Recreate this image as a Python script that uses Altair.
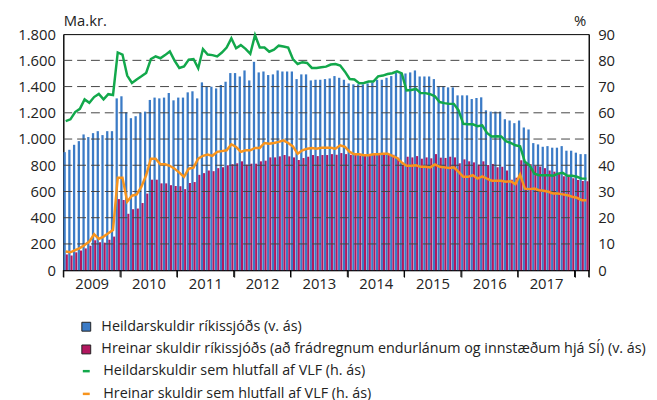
import altair as alt
import pandas as pd

# ---- data (monthly, Jan 2009 .. Mar 2018) ----
start_year = 2009
n_months = 111

total_debt = [900, 918, 956, 984, 1035, 1015, 1045, 1060, 1030, 1060, 1060, 1310,
              1326, 1204, 1159, 1174, 1199, 1209, 1298, 1316, 1310, 1316, 1351, 1295,
              1316, 1316, 1356, 1364, 1310, 1432, 1399, 1399, 1386, 1412, 1437, 1503,
              1503, 1477, 1523, 1447, 1589, 1508, 1515, 1488, 1493, 1523, 1515, 1515,
              1515, 1457, 1493, 1493, 1447, 1452, 1452, 1457, 1462, 1480, 1467, 1452,
              1424, 1417, 1417, 1417, 1424, 1432, 1452, 1452, 1467, 1480, 1505, 1498,
              1500, 1508, 1523, 1477, 1477, 1477, 1457, 1404, 1404, 1394, 1394, 1333,
              1333, 1333, 1305, 1313, 1318, 1219, 1209, 1209, 1209, 1151, 1141, 1121,
              1141, 1088, 1073, 969, 959, 941, 946, 934, 934, 946, 911, 911,
              896, 885, 885]

net_debt = [120, 112, 136, 150, 166, 186, 228, 213, 210, 232, 256, 542,
            535, 430, 465, 470, 512, 584, 690, 690, 662, 662, 648, 642,
            640, 618, 665, 672, 727, 740, 760, 755, 778, 785, 800, 808,
            815, 830, 805, 812, 812, 830, 835, 860, 860, 868, 878, 868,
            860, 840, 855, 865, 878, 870, 878, 878, 885, 880, 893, 885,
            880, 880, 873, 873, 873, 880, 880, 880, 880, 880, 858, 805,
            865, 860, 870, 850, 860, 853, 885, 858, 856, 865, 860, 815,
            845, 830, 822, 805, 830, 802, 810, 785, 788, 760, 690, 705,
            838, 816, 808, 796, 790, 778, 760, 751, 734, 716, 711, 701,
            688, 680, 678]

total_pct = [56.8, 57.5, 60.3, 61.5, 65.1, 63.8, 66.0, 67.2, 65.1, 67.1, 66.8, 83.0,
             82.2, 74.2, 71.4, 72.7, 73.9, 75.2, 80.5, 81.5, 80.8, 82.0, 83.4, 79.9,
             77.1, 77.7, 80.3, 80.5, 77.0, 84.3, 82.2, 82.0, 81.5, 83.0, 84.9, 88.4,
             84.6, 85.8, 84.4, 82.5, 89.6, 84.9, 84.9, 83.3, 84.1, 85.6, 85.3, 84.9,
             80.5, 78.6, 79.3, 79.0, 77.1, 77.1, 77.4, 77.6, 78.4, 78.6, 78.0, 75.7,
             72.9, 72.7, 71.3, 71.4, 71.9, 71.9, 73.9, 74.2, 74.8, 75.1, 75.8, 75.0,
             68.5, 68.7, 69.1, 67.5, 67.5, 67.1, 66.3, 64.1, 63.7, 63.4, 63.4, 60.9,
             55.8, 55.6, 55.6, 54.9, 55.2, 52.3, 51.0, 51.1, 51.0, 49.2, 48.5, 47.6,
             47.2, 41.3, 40.0, 36.8, 36.2, 36.2, 36.2, 36.0, 36.8, 37.1, 36.0, 36.0,
             35.6, 34.9, 34.9]

net_pct = [7.1, 6.8, 7.6, 8.4, 9.6, 10.9, 13.7, 11.9, 12.8, 14.1, 15.3, 35.2,
           35.2, 26.1, 28.4, 28.9, 31.8, 36.2, 42.5, 42.5, 40.4, 40.4, 39.8, 38.7,
           37.2, 35.6, 38.7, 39.1, 42.5, 43.6, 44.1, 43.6, 45.1, 45.4, 45.7, 48.0,
           47.0, 45.1, 45.7, 45.7, 46.6, 46.6, 48.5, 48.2, 48.5, 48.9, 49.5, 48.5,
           47.2, 44.4, 45.7, 46.3, 46.6, 46.3, 46.7, 46.7, 46.7, 46.3, 47.6, 47.0,
           45.1, 44.2, 44.2, 43.8, 43.8, 44.2, 44.2, 44.4, 44.4, 43.6, 42.8, 41.0,
           39.8, 39.8, 40.0, 39.4, 39.4, 39.2, 40.3, 39.4, 39.2, 39.0, 39.2, 37.5,
           35.6, 35.6, 36.2, 34.9, 35.8, 34.9, 34.1, 34.1, 34.1, 33.7, 33.9, 32.8,
           36.5, 31.1, 30.9, 31.1, 30.5, 30.3, 29.9, 29.2, 29.2, 28.9, 28.6, 28.0,
           27.6, 26.7, 26.7]

bar_names = ["Heildarskuldir ríkissjóðs (v. ás)",
             "Hreinar skuldir ríkissjóðs (að frádregnum endurlánum og innstæðum hjá SÍ) (v. ás)"]
line_names = ["Heildarskuldir sem hlutfall af VLF (h. ás)",
              "Hreinar skuldir sem hlutfall af VLF (h. ás)"]
left_ticks = list(range(0, 1801, 200))
right_ticks = list(range(0, 91, 10))
grid_values = list(range(200, 1601, 200))
year_ticks = list(range(0, 109, 12)) + [n_months]

BLUE = "#3b7bc6"
PURPLE = "#b2175f"
GREEN = "#12a84b"
ORANGE = "#f7941d"
FONT = "Open Sans"

# ---- tables ----
bar_rows = []
for i in range(n_months):
    bar_rows.append({"series": bar_names[0], "x0": i + 0.04, "x1": i + 0.52, "v": total_debt[i]})
    bar_rows.append({"series": bar_names[1], "x0": i + 0.52, "x1": i + 0.96, "v": net_debt[i]})
bars_df = pd.DataFrame(bar_rows)

line_rows = []
for i in range(n_months):
    line_rows.append({"series": line_names[0], "xc": i + 0.5, "p": total_pct[i]})
    line_rows.append({"series": line_names[1], "xc": i + 0.5, "p": net_pct[i]})
lines_df = pd.DataFrame(line_rows)

grid_df = pd.DataFrame({"g": grid_values})
tick_df = pd.DataFrame({"t": year_ticks})

xscale = alt.Scale(domain=[0, n_months], nice=False, zero=False)
yscale_left = alt.Scale(domain=[0, 1800], nice=False)
yscale_right = alt.Scale(domain=[0, 90], nice=False)


def x_axis():
    return alt.Axis(
        values=year_ticks,
        labelExpr=f"datum.value < 108 ? '' + ({start_year} + datum.value / 12) : ''",
        labelOffset=28.7, labelFlush=False, labelOverlap=False, labelBound=False,
        ticks=True, tickSize=7, tickWidth=1, tickColor="black", tickOpacity=1,
        domainColor="black", grid=False, title=None,
        labelFontSize=15, labelPadding=0, labelColor="#222",
    )


def left_axis():
    return alt.Axis(
        values=left_ticks,
        labelExpr="replace(format(datum.value, ','), ',', '.')",
        ticks=False, grid=False, domainColor="black", labelPadding=8,
        labelFontSize=15, labelColor="#222",
        title="Ma.kr.", titleAngle=0, titleX=0, titleY=-14, titleAlign="left",
        titleBaseline="middle", titleFontWeight="normal", titleFontSize=15, titleColor="#222",
    )


right_axis = alt.Axis(
    orient="right", values=right_ticks,
    ticks=False, grid=False, domainColor="black", labelPadding=9,
    labelFontSize=15, labelColor="#222",
    title="%", titleAngle=0, titleX=-3, titleY=-14, titleAlign="right",
    titleBaseline="middle", titleFontWeight="normal", titleFontSize=15, titleColor="#222",
)

legend_common = dict(orient="none", legendX=16, title=None, labelFontSize=14.5,
                     rowPadding=8, labelLimit=0, padding=0, labelColor="#222")

bars = alt.Chart(bars_df).mark_bar().encode(
    x=alt.X("x0:Q", scale=xscale, axis=x_axis()),
    x2="x1:Q",
    y=alt.Y("v:Q", scale=yscale_left, axis=left_axis()),
    y2=alt.Y2(datum=0),
    fill=alt.Fill("series:N",
                  scale=alt.Scale(domain=bar_names, range=[BLUE, PURPLE]),
                  legend=alt.Legend(legendY=289, symbolType="square", symbolSize=81,
                                    symbolStrokeColor="#222", symbolStrokeWidth=1,
                                    labelOffset=8, **legend_common)),
)

grid = alt.Chart(grid_df).mark_rule(color="#444", strokeWidth=1, strokeDash=[9, 5]).encode(
    x=alt.value(0), x2=alt.value(532),
    y=alt.Y("g:Q", scale=yscale_left, axis=left_axis()),
)

# year-boundary tick marks below the x axis
year_marks = alt.Chart(tick_df).mark_rule(color="black", strokeWidth=1).encode(
    x=alt.X("t:Q", scale=xscale, axis=x_axis()),
    y=alt.value(239), y2=alt.value(246),
)

lines = alt.Chart(lines_df).mark_line(strokeWidth=2.5).encode(
    x=alt.X("xc:Q", scale=xscale, axis=x_axis()),
    y=alt.Y("p:Q", scale=yscale_right, axis=right_axis),
    stroke=alt.Stroke("series:N",
                      scale=alt.Scale(domain=line_names, range=[GREEN, ORANGE]),
                      legend=alt.Legend(legendY=334, symbolType="stroke", symbolSize=49,
                                        symbolStrokeWidth=2.5, labelOffset=10,
                                        **legend_common)),
)

chart = alt.layer(alt.layer(bars, grid, year_marks), lines).resolve_scale(
    y="independent", fill="independent", stroke="independent"
).properties(
    width=532, height=239,
    autosize=alt.AutoSizeParams(type="none"),
    padding={"left": 56, "top": 24, "right": 61, "bottom": 129},
).configure(font=FONT).configure_view(stroke="black", strokeWidth=1)

chart.save("out.html", embed_options={"renderer": "svg", "actions": False})
